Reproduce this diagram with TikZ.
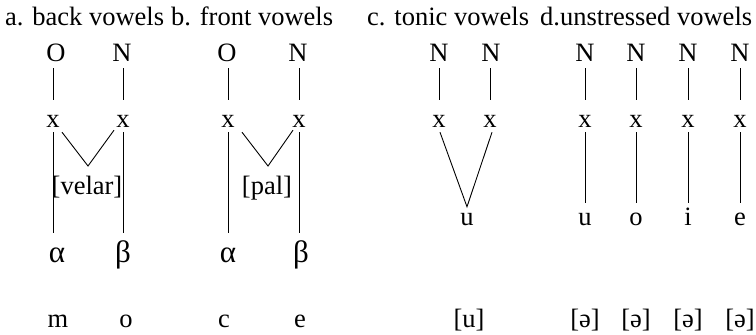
\documentclass[tikz,border=0pt]{standalone}
\usepackage{fontspec}
\setmainfont{Liberation Serif}
\usetikzlibrary{calc}
\begin{document}
\begin{tikzpicture}[x=1pt,y=-1pt,
  lab/.style={inner sep=0pt,anchor=base,text height=18pt,text depth=0pt,font=\fontsize{26.5}{30}\selectfont},
  grk/.style={lab,font=\fontsize{31}{34}\selectfont},
  ttl/.style={inner sep=0pt,anchor=base west,font=\fontsize{26.5}{30}\selectfont},
  ln/.style={line width=0.9pt,line cap=butt}]
\useasboundingbox (0,0) rectangle (756,335);
% titles
\node[ttl] (ta) at (5,25) {a. back vowels};
\node[ttl] (tb) at (171,25) {b. front vowels};
\node[ttl] (tc) at (367,25) {c. tonic vowels};
\node[ttl] (td) at (540,25) {d.unstressed vowels};
% column a
\node[lab] (Oa) at (56,61) {O};
\node[lab] (Na) at (122,61) {N};
\node[lab] (xa1) at (53,127) {x};
\node[lab] (xa2) at (123,127) {x};
\node[grk] (al1) at (57,262) {α};
\node[grk] (be1) at (123,262) {β};
\node[lab] (vel) at (87,194) {[velar]};
\node[lab] (m) at (58,327) {m};
\node[lab] (o) at (126,327) {o};
\coordinate (va) at (88,166);
% column b
\node[lab] (Ob) at (227,61) {O};
\node[lab] (Nb) at (298,61) {N};
\node[lab] (xb1) at (228,127) {x};
\node[lab] (xb2) at (299,127) {x};
\node[grk] (al2) at (228,262) {α};
\node[grk] (be2) at (301,262) {β};
\node[lab] (pal) at (267,194) {[pal]};
\node[lab] (c) at (224,327) {c};
\node[lab] (e) at (300,327) {e};
\coordinate (vb) at (268,166);
% column c
\node[lab] (Nc1) at (439,61) {N};
\node[lab] (Nc2) at (491,61) {N};
\node[lab] (xc1) at (439,127) {x};
\node[lab] (xc2) at (490,127) {x};
\node[lab] (uc) at (467,225) {u};
\node[lab] (uu) at (469,327) {[u]};
% column d
\foreach \i/\xx/\v in {1/585/u,2/636/o,3/688/i,4/740/e}{
  \node[lab] (Nd\i) at (\xx,61) {N};
  \node[lab] (xd\i) at (\xx,127) {x};
  \node[lab] (vd\i) at (\xx,225) {\v};
  \node[lab] (sd\i) at (\xx,327) {[ə]};
}
% upper lines
\foreach \n/\x in {Oa/xa1,Na/xa2,Ob/xb1,Nb/xb2,Nc1/xc1,Nc2/xc2,Nd1/xd1,Nd2/xd2,Nd3/xd3,Nd4/xd4}{
  \draw[ln,shorten <=7pt,shorten >=9pt] (\x.north |- \n.south) -- (\x.north);
}
% lower lines a,b
\foreach \x/\a in {xa1/al1,xa2/be1,xb1/al2,xb2/be2}{
  \draw[ln,shorten <=5pt,shorten >=11pt] (\x.south) -- (\x.south |- \a.north);
}
% V shapes
\draw[ln] ([shift={(9,5)}]xa1.south) -- (va) -- ([shift={(-9,3)}]xa2.south);
\draw[ln] ([shift={(14,5)}]xb1.south) -- (vb) -- ([shift={(-6,3)}]xb2.south);
\draw[ln] ([shift={(1,5)}]xc1.south) -- (uc.north) -- ([shift={(2,5)}]xc2.south);
% lower lines d
\foreach \i in {1,2,3,4}{
  \draw[ln,shorten <=5pt,shorten >=4pt] (xd\i.south) -- (xd\i.south |- vd\i.north);
}
\end{tikzpicture}
\end{document}
